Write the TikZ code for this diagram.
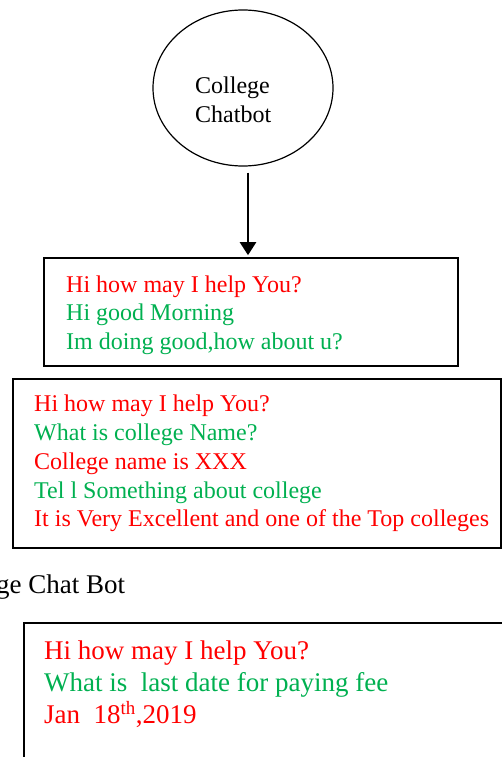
\documentclass[tikz,border=0pt]{standalone}
\usepackage{fontspec}
\setmainfont{Liberation Serif}
\usepackage{xcolor}
\usetikzlibrary{shapes.geometric,arrows.meta}
\definecolor{botred}{HTML}{FF0000}
\definecolor{usrgreen}{HTML}{00B050}
\newcommand{\botsays}[1]{\textcolor{botred}{#1}}
\newcommand{\usrsays}[1]{\textcolor{usrgreen}{#1}}
\tikzset{
  botshape/.style={draw=black, ellipse, line width=1.2pt, minimum width=180pt, minimum height=156pt, inner sep=0pt},
  chatbox/.style={draw=black, line width=1.6pt, inner sep=0pt},
  flow/.style={draw=black, line width=2.4pt, -{Triangle[length=13pt,width=16pt]}},
  msg/.style={align=left, inner sep=0pt, font=\fontsize{24pt}{28.7pt}\selectfont},
  msgbig/.style={align=left, inner sep=0pt, font=\fontsize{27pt}{32pt}\selectfont},
  caption/.style={inner sep=0pt, font=\fontsize{27pt}{32pt}\selectfont},
}

\begin{document}
\begin{tikzpicture}[x=1pt, y=-1pt]
  \useasboundingbox (0,0) rectangle (502,757);

  \node[botshape] (bot) at (243,88) {};
  \node[msg, anchor=west] (botname) at (195,100) {College\\Chatbot};

  \node[chatbox, minimum width=414pt, minimum height=108pt] (box1) at (251,312) {};
  \node[msg, anchor=west] (talk1) at (66,315) {\botsays{Hi how may I help You?}\\
    \usrsays{Hi good Morning}\\
    \usrsays{Im doing good,how about u?}};

  \draw[flow, shorten >=2pt] ([xshift=5pt, yshift=-6pt]bot.south) -- ([xshift=5pt]bot.south |- box1.north);

  \node[chatbox, minimum width=488pt, minimum height=169pt] (box2) at (257,463.5) {};
  \node[msg, anchor=west] (talk2) at (34,463.6) {\botsays{Hi how may I help You?}\\
    \usrsays{What is college Name?}\\
    \botsays{College name is XXX}\\
    \usrsays{Tel l Something about college}\\
    \botsays{It is Very Excellent and one of the Top colleges}};

  \node[caption, anchor=base west] (figname) at (-4,593) {ge Chat Bot};

  \node[chatbox, minimum width=517pt, minimum height=178pt, anchor=north west] (box3) at (23,622) {};
  \node[msgbig, anchor=north west] (talk3) at (44,640.6) {\botsays{Hi how may I help You?}\\
    \usrsays{What is~ last date for paying fee}\\
    \botsays{Jan~ 18\textsuperscript{th},2019}};
\end{tikzpicture}
\end{document}
